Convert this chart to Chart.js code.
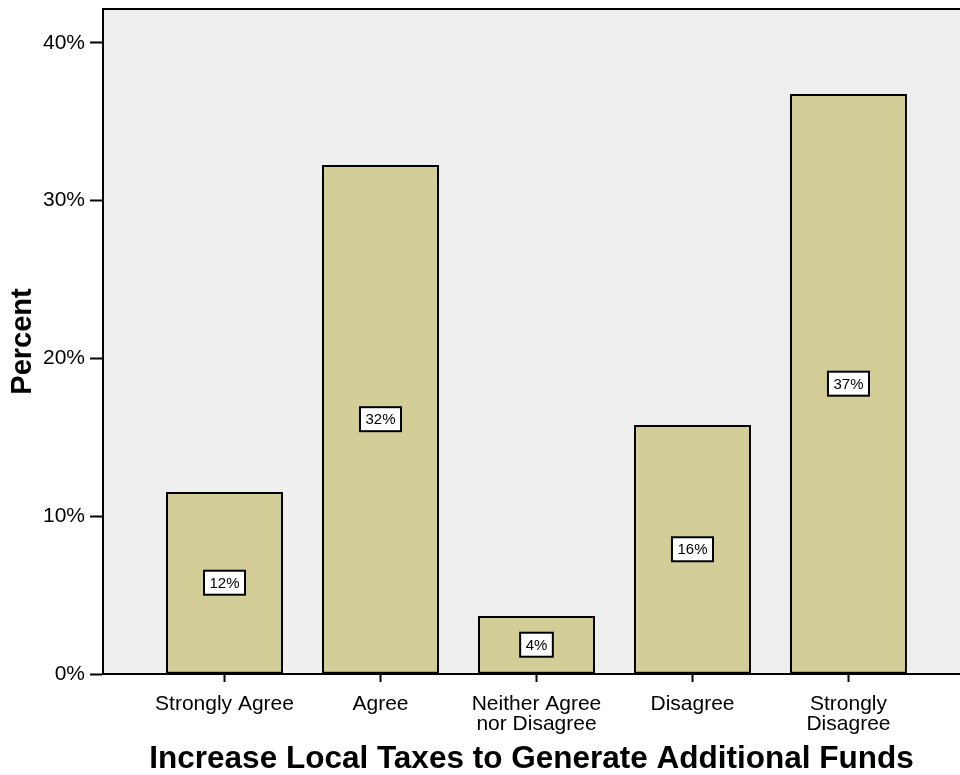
<!DOCTYPE html>
<html lang="en">
<head>
  <meta charset="UTF-8" />
  <title>Increase Local Taxes to Generate Additional Funds</title>
  <script src="https://cdn.jsdelivr.net/npm/chart.js"></script>
  <style>
    html, body {
      margin: 0;
      padding: 0;
      background: #ffffff;
    }
    .chart-wrap {
      position: relative;
      width: 960px;
      height: 775px;
    }
  </style>
</head>
<body>
  <div class="chart-wrap">
    <canvas id="taxChart" width="960" height="775"></canvas>
  </div>

  <script>
    // survey answers (percent of respondents)
    const categories = ["Strongly Agree", "Agree", "Neither Agree\nnor Disagree", "Disagree", "Strongly\nDisagree"];
    const percents = [11.54, 32.27, 3.68, 15.78, 36.77];
    const yTicks = [0, 10, 20, 30, 40];

    const FONT = "'Liberation Sans', Arial, sans-serif";

    // plot panel: light grey fill plus a frame line along the top
    const panelPlugin = {
      id: 'panel',
      beforeDraw(chart) {
        const { ctx, chartArea: a } = chart;
        ctx.save();
        ctx.fillStyle = '#efefef';
        ctx.fillRect(a.left, a.top, a.right - a.left, a.bottom - a.top);
        ctx.restore();
      },
      afterDraw(chart) {
        const { ctx, chartArea: a } = chart;
        ctx.save();
        ctx.strokeStyle = '#000';
        ctx.lineWidth = 2;
        ctx.beginPath();
        ctx.moveTo(a.left, a.top);
        ctx.lineTo(a.right, a.top);
        ctx.stroke();
        ctx.restore();
      }
    };

    // boxed percentage label in the middle of each bar
    const boxLabels = {
      id: 'boxLabels',
      afterDatasetsDraw(chart) {
        const { ctx } = chart;
        const meta = chart.getDatasetMeta(0);
        ctx.save();
        ctx.font = '15px ' + FONT;
        ctx.textAlign = 'center';
        ctx.textBaseline = 'middle';
        meta.data.forEach((bar, i) => {
          const txt = Math.round(percents[i]) + '%';
          const cx = bar.x;
          const cy = (bar.y + bar.base) / 2;
          const w = ctx.measureText(txt).width + 11;
          const h = 24;
          ctx.fillStyle = '#fff';
          ctx.fillRect(cx - w / 2, cy - h / 2, w, h);
          ctx.strokeStyle = '#000';
          ctx.lineWidth = 2;
          ctx.strokeRect(cx - w / 2, cy - h / 2, w, h);
          ctx.fillStyle = '#000';
          ctx.fillText(txt, cx, cy + 1);
        });
        ctx.restore();
      }
    };

    const ctx = document.getElementById('taxChart').getContext('2d');

    new Chart(ctx, {
      type: 'bar',
      data: {
        datasets: [{
          label: 'Percent',
          data: percents.map((v, i) => ({ x: i, y: v })),
          backgroundColor: '#d3ce98',
          borderColor: '#000',
          borderWidth: 2,
          borderSkipped: false,
          barPercentage: 0.75,
          categoryPercentage: 1
        }]
      },
      options: {
        responsive: false,
        animation: false,
        layout: { padding: { top: 9, left: 0, right: 0, bottom: 0 } },
        plugins: {
          legend: { display: false },
          tooltip: { enabled: false }
        },
        scales: {
          x: {
            type: 'linear',
            offset: false,
            min: -0.779,
            max: 4.715,
            afterFit(scale) {
              scale.height = 101;
              scale.paddingLeft = 0;
              scale.paddingRight = 0;
            },
            afterBuildTicks(scale) {
              scale.ticks = categories.map((_, i) => ({ value: i }));
            },
            border: { display: true, color: '#000', width: 2 },
            grid: {
              display: true,
              offset: false,
              drawOnChartArea: false,
              drawTicks: true,
              tickLength: 8,
              tickWidth: 2,
              tickColor: '#000'
            },
            ticks: {
              color: '#000',
              padding: 12,
              autoSkip: false,
              maxRotation: 0,
              font: { family: FONT, size: 21, lineHeight: 0.95 },
              callback: v => categories[v] !== undefined ? categories[v].split('\n') : ''
            },
            title: {
              display: true,
              text: 'Increase Local Taxes to Generate Additional Funds',
              color: '#000',
              font: { family: FONT, size: 31.5, weight: 'bold', lineHeight: 1 },
              padding: { top: 0, bottom: 0 }
            }
          },
          y: {
            min: 0,
            max: 42.15,
            afterFit(scale) {
              scale.width = 103;
              scale.paddingTop = 0;
              scale.paddingBottom = 0;
            },
            afterBuildTicks(scale) {
              scale.ticks = yTicks.map(v => ({ value: v }));
            },
            border: { display: true, color: '#000', width: 2 },
            grid: {
              display: true,
              drawOnChartArea: false,
              drawTicks: true,
              tickLength: 13,
              tickWidth: 2,
              tickColor: '#000'
            },
            ticks: {
              color: '#000',
              padding: 5,
              font: { family: FONT, size: 21 },
              callback: v => v + '%'
            },
            title: {
              display: true,
              text: 'Percent',
              color: '#000',
              font: { family: FONT, size: 29, weight: 'bold', lineHeight: 1 },
              padding: { top: 8, bottom: 0 }
            }
          }
        }
      },
      plugins: [panelPlugin, boxLabels]
    });
  </script>
</body>
</html>
